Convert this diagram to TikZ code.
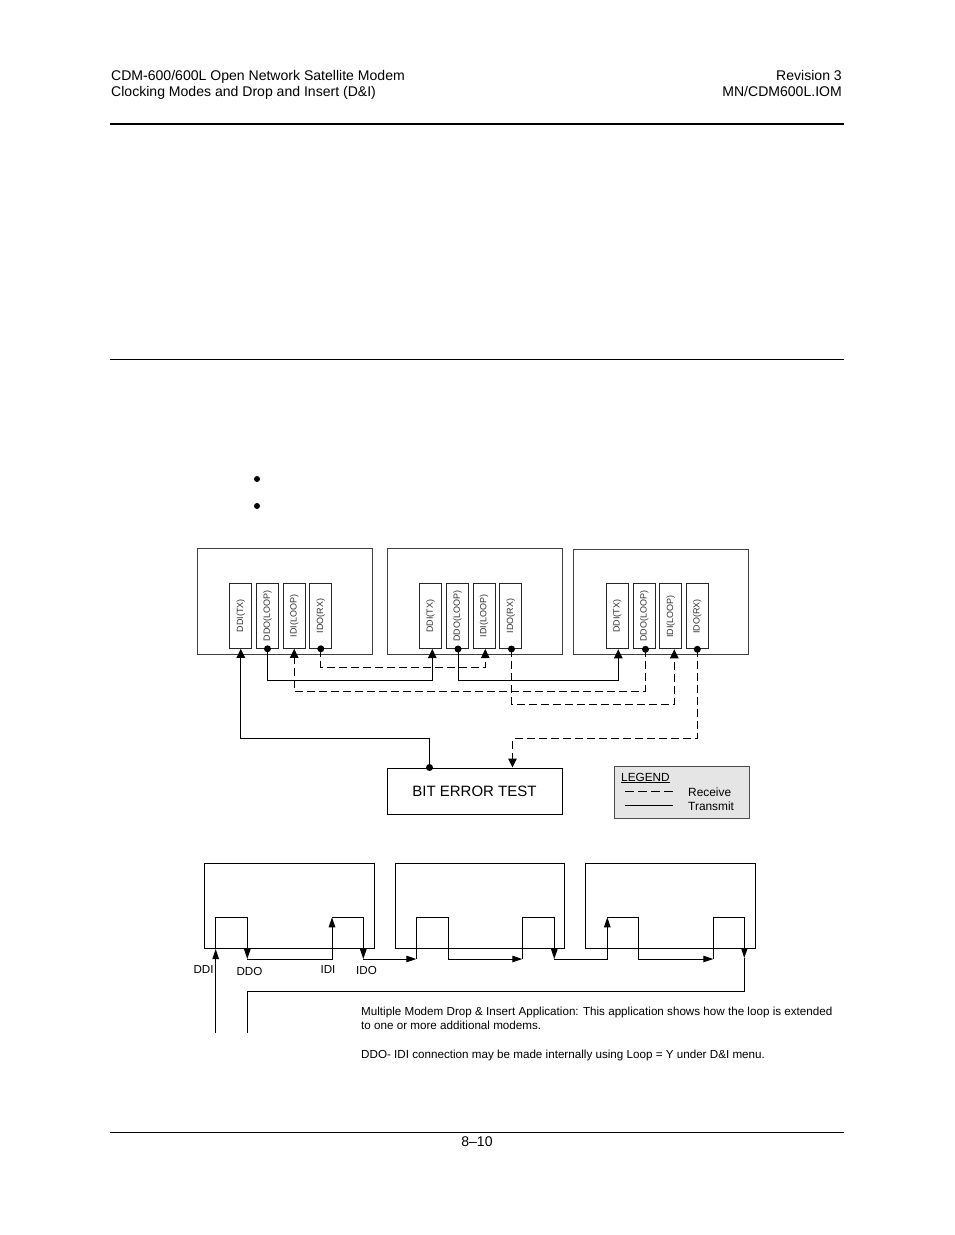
\documentclass[tikz,border=0pt]{standalone}
\usepackage{fontspec}
\usepackage{graphicx}
\setmainfont{Liberation Sans}
\usetikzlibrary{arrows.meta}
\tikzset{
  x=1pt,y=-1pt,
  txt/.style={inner sep=0pt,anchor=base west,font=\fontsize{14.05}{16}\selectfont},
  txtr/.style={txt,anchor=base east},
  note/.style={inner sep=0pt,anchor=base west,font=\fontsize{11.65}{13}\selectfont},
  lab/.style={inner sep=0pt,anchor=base,font=\fontsize{11.6}{13}\selectfont},
  unit/.style={draw=black!75,line width=1pt,inner sep=0pt,minimum width=175pt,minimum height=105.5pt},
  low/.style={draw=black,line width=1pt,inner sep=0pt},
  port/.style={draw=black!85,line width=1pt,inner sep=0pt,minimum width=22pt,minimum height=65pt,font=\fontsize{9}{10}\selectfont,text=black!80},
  tx/.style={line width=1pt,line join=miter},
  rx/.style={line width=1pt,dash pattern=on 8pt off 4pt},
  tip/.style={-{Triangle[length=9pt,width=8.5pt]}},
  tiplow/.style={-{Triangle[length=10pt,width=6.5pt]}},
  pin/.style={circle,fill=black,inner sep=0pt,minimum size=7pt},
  rule/.style={line width=1pt},
}
\begin{document}
\begin{tikzpicture}
\useasboundingbox (0,0) rectangle (954,1235);
\fill[white] (0,0) rectangle (954,1235);
% page furniture
\node[txt] (h1) at (111,80) {CDM-600/600L Open Network Satellite Modem};
\node[txt] (h2) at (111,96) {Clocking Modes and Drop and Insert (D\&I)};
\node[txtr] (h3) at (842,80) {Revision 3};
\node[txtr] (h4) at (842,96) {MN/CDM600L.IOM};
\coordinate (ra) at (110,124); \coordinate (rb) at (844,124);
\draw[line width=1.6pt] (ra) -- (rb);
\coordinate (rc) at (110,359.5); \coordinate (rd) at (844,359.5);
\draw[rule] (rc) -- (rd);
\coordinate (re) at (110,1132.5); \coordinate (rf) at (844,1132.5);
\draw[rule] (re) -- (rf);
\node[txt,anchor=base] (pg) at (477,1146) {8–10};
\node[circle,fill=black,inner sep=0pt,minimum size=6pt] (b1) at (257,479) {};
\node[circle,fill=black,inner sep=0pt,minimum size=6pt] (b2) at (257,506) {};

% upper diagram: units
\node[unit] (u1) at (284.6,601.5) {};
\node[unit] (u2) at (474.6,601.5) {};
\node[unit] (u3) at (661.3,602) {};
% ports
\node[port] (p1a) at (240.8,615.8) {\rotatebox{90}{DDI(TX)}};
\node[port] (p1b) at (267.5,615.8) {\rotatebox{90}{DDO(LOOP)}};
\node[port] (p1c) at (294.2,615.8) {\rotatebox{90}{IDI(LOOP)}};
\node[port] (p1d) at (320.8,615.8) {\rotatebox{90}{IDO(RX)}};
\node[port] (p2a) at (430.5,616) {\rotatebox{90}{DDI(TX)}};
\node[port] (p2b) at (457.5,616) {\rotatebox{90}{DDO(LOOP)}};
\node[port] (p2c) at (484,616) {\rotatebox{90}{IDI(LOOP)}};
\node[port] (p2d) at (510.7,616) {\rotatebox{90}{IDO(RX)}};
\node[port] (p3a) at (617.3,616.3) {\rotatebox{90}{DDI(TX)}};
\node[port] (p3b) at (644.3,616.3) {\rotatebox{90}{DDO(LOOP)}};
\node[port] (p3c) at (670.7,616.3) {\rotatebox{90}{IDI(LOOP)}};
\node[port] (p3d) at (697.3,616.3) {\rotatebox{90}{IDO(RX)}};
% pins and arrival points on the port edges
\coordinate (q2a) at ([xshift=1.8pt]p2a.south);
\coordinate (q2b) at ([xshift=.5pt]p2b.south);
\coordinate (q2c) at ([xshift=1.3pt]p2c.south);
\coordinate (q2d) at ([xshift=.8pt]p2d.south);
\coordinate (q3a) at ([xshift=1pt]p3a.south);
\coordinate (q3b) at ([xshift=1.2pt]p3b.south);
\coordinate (q3c) at ([xshift=3.6pt]p3c.south);
% test set and legend
\node[low,minimum width=175pt,minimum height=46pt,font=\fontsize{15}{18}\selectfont] (ber) at (474.5,791) {BIT ERROR TEST};
\node[draw=black!70,fill=black!10,line width=1pt,inner sep=0pt,minimum width=134.5pt,minimum height=51.5pt] (leg) at (682,792.5) {};
\node[inner sep=0pt,anchor=base west,font=\fontsize{11.8}{13}\selectfont] (legt) at (621,781) {\underline{LEGEND}};
\coordinate (ld1) at (625,791.5); \coordinate (ld2) at (674,791.5);
\coordinate (ls1) at (625,805); \coordinate (ls2) at (673,805);
\draw[line width=.8pt,dash pattern=on 9pt off 4pt] (ld1) -- (ld2);
\draw[line width=.8pt] (ls1) -- (ls2);
\node[note,font=\fontsize{11.9}{13}\selectfont] (lr) at (688,796) {Receive};
\node[note,font=\fontsize{11.9}{13}\selectfont] (lx) at (688,810) {Transmit};

% levels of the horizontal runs
\coordinate (yA) at (0,667);
\coordinate (yB) at (0,680.5);
\coordinate (yC) at (0,691);
\coordinate (yD) at (0,704);
\coordinate (yE) at (0,738.5);
\coordinate (xT) at (429.5,0);
\coordinate (xR) at (512.5,0);
% connectors
\draw[tx,tip] (p1b.south) -- (p1b.south |- yB) -| (q2a);
\draw[tx,tip] (q2b) -- (q2b |- yB) -| (q3a);
\draw[rx,tip] (p1d.south) -- (p1d.south |- yA) -| (q2c);
\draw[rx,tip] (q3b) -- (q3b |- yC) -| (p1c.south);
\draw[rx,tip] (q2d) -- (q2d |- yD) -| (q3c);
\draw[rx,tip] (p3d.south) -- (p3d.south |- yE) -| (xR |- ber.north);
\draw[tx,tip] (xT |- ber.north) -- (xT |- yE) -| (p1a.south);
\node[pin] (d1) at (p1b.south) {};
\node[pin] (d2) at (p1d.south) {};
\node[pin] (d3) at (q2b) {};
\node[pin] (d4) at (q2d) {};
\node[pin] (d5) at (q3b) {};
\node[pin] (d6) at (p3d.south) {};
\node[pin] (d7) at (xT |- ber.north) {};

% lower diagram
\node[low,minimum width=170.4pt,minimum height=85pt] (m1) at (289.5,905.8) {};
\node[low,minimum width=169pt,minimum height=85pt] (m2) at (479.8,905.8) {};
\node[low,minimum width=170pt,minimum height=85pt] (m3) at (670.3,905.8) {};
\coordinate (s1) at (215.7,1033);
\coordinate (s2) at (247.3,1033);
\coordinate (c0) at (215.7,949);
\coordinate (c1) at (215.7,917.3);
\coordinate (c2) at (247.3,917.3);
\coordinate (c3) at (247.3,959);
\coordinate (c4) at (332,959);
\coordinate (c5) at (332,917.3);
\coordinate (c6) at (363.3,917.3);
\coordinate (c7) at (363.3,959);
\coordinate (c8) at (416.3,959);
\coordinate (c9) at (416.3,917.3);
\coordinate (c10) at (448.3,917.3);
\coordinate (c11) at (448.3,959);
\coordinate (c12) at (522.3,959);
\coordinate (c13) at (522.3,917.3);
\coordinate (c14) at (554.3,917.3);
\coordinate (c15) at (554.3,959);
\coordinate (c16) at (607.3,959);
\coordinate (c17) at (607.3,917.3);
\coordinate (c18) at (638.3,917.3);
\coordinate (c19) at (638.3,959);
\coordinate (c20) at (713.3,959);
\coordinate (c21) at (713.3,917.3);
\coordinate (c22) at (744.3,917.3);
\coordinate (c23) at (744.3,958);
\coordinate (c24) at (744.3,991);
\coordinate (c25) at (247.3,991);
\draw[tx,tiplow] (s1) -- (c0);
\draw[tx,tiplow] (c0) -- (c1) -- (c2) -- (c3);
\draw[tx,tiplow] (c3) -- (c4) -- (c5);
\draw[tx,tiplow] (c5) -- (c6) -- (c7);
\draw[tx,tiplow] (c7) -- (c8);
\draw[tx,tiplow] (c8) -- (c9) -- (c10) -- (c11) -- (c12);
\draw[tx,tiplow] (c12) -- (c13) -- (c14) -- (c15);
\draw[tx,tiplow] (c15) -- (c16) -- (c17);
\draw[tx,tiplow] (c17) -- (c18) -- (c19) -- (c20);
\draw[tx,tiplow] (c20) -- (c21) -- (c22) -- (c23);
\draw[tx] (c23) -- (c24) -- (c25) -- (s2);
\node[lab] (l1) at (203.5,973) {DDI};
\node[lab] (l2) at (249.5,975) {DDO};
\node[lab] (l3) at (328,973) {IDI};
\node[lab] (l4) at (366.5,974) {IDO};
\node[note] (n1) at (361,1015) {Multiple Modem Drop \& Insert Application: This application shows how the loop is extended};
\node[note] (n2) at (361,1029) {to one or more additional modems.};
\node[note] (n3) at (361,1058) {DDO- IDI connection may be made internally using Loop = Y under D\&I menu.};
\end{tikzpicture}
\end{document}
